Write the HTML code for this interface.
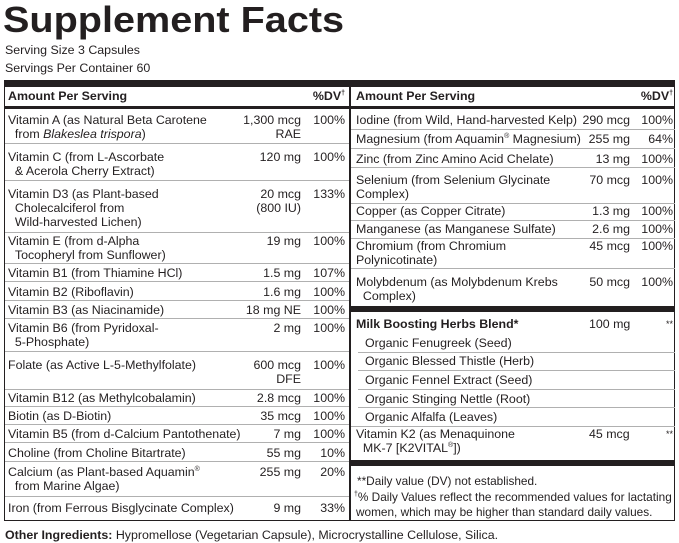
<!DOCTYPE html><html><head><meta charset="utf-8"><style>
body{margin:0;width:679px;height:543px;background:#fff;position:relative;overflow:hidden;font-family:"Liberation Sans",sans-serif;color:#231f20}
div{position:absolute;white-space:nowrap}
.t{font-size:12.4px;line-height:14px}
.r{text-align:right}
.b{font-weight:bold}
.bar{background:#231f20}
.g{background:#b0b0b0;height:1px}
sup{font-size:7px;vertical-align:0;position:relative;top:-5px;line-height:0}
</style></head><body>
<div style="left:3px;top:0;font-size:36px;font-weight:bold;line-height:40px;transform:scaleX(1.1);transform-origin:0 0">Supplement Facts</div>
<div class="t" style="left:5px;top:43px">Serving Size 3 Capsules</div>
<div class="t" style="left:5px;top:61px">Servings Per Container 60</div>
<!-- box -->
<div style="left:4px;top:80px;width:671px;height:441px;border:1px solid #231f20;box-sizing:border-box"></div>
<div class="bar" style="left:4px;top:80px;width:671px;height:7px"></div>
<div class="bar" style="left:349px;top:80px;width:2px;height:441px"></div>
<div class="bar" style="left:4px;top:106px;width:671px;height:3px"></div>
<div class="t b" style="left:8px;top:89px">Amount Per Serving</div>
<div class="t b r" style="left:300px;width:45px;top:89px">%DV<sup>†</sup></div>
<div class="t b" style="left:356px;top:89px">Amount Per Serving</div>
<div class="t b r" style="left:628px;width:45px;top:89px">%DV<sup>†</sup></div>

<!-- left rows -->
<div class="t" style="left:8px;top:113px">Vitamin A (as Natural Beta Carotene<br>&nbsp;&nbsp;from <i>Blakeslea trispora</i>)</div>
<div class="t r" style="left:200px;width:101px;top:113px">1,300 mcg<br>RAE</div><div class="t r" style="left:300px;width:45px;top:113px">100%</div>
<div class="g" style="left:5px;top:143px;width:344px"></div>
<div class="t" style="left:8px;top:150px">Vitamin C (from L-Ascorbate<br>&nbsp;&nbsp;&amp; Acerola Cherry Extract)</div>
<div class="t r" style="left:200px;width:101px;top:150px">120 mg</div><div class="t r" style="left:300px;width:45px;top:150px">100%</div>
<div class="g" style="left:5px;top:180px;width:344px"></div>
<div class="t" style="left:8px;top:187px">Vitamin D3 (as Plant-based<br>&nbsp;&nbsp;Cholecalciferol from<br>&nbsp;&nbsp;Wild-harvested Lichen)</div>
<div class="t r" style="left:200px;width:101px;top:187px">20 mcg<br>(800 IU)</div><div class="t r" style="left:300px;width:45px;top:187px">133%</div>
<div class="g" style="left:5px;top:232px;width:344px"></div>
<div class="t" style="left:8px;top:234px">Vitamin E (from d-Alpha<br>&nbsp;&nbsp;Tocopheryl from Sunflower)</div>
<div class="t r" style="left:200px;width:101px;top:234px">19 mg</div><div class="t r" style="left:300px;width:45px;top:234px">100%</div>
<div class="g" style="left:5px;top:263px;width:344px"></div>
<div class="t" style="left:8px;top:266px">Vitamin B1 (from Thiamine HCl)</div>
<div class="t r" style="left:200px;width:101px;top:266px">1.5 mg</div><div class="t r" style="left:300px;width:45px;top:266px">107%</div>
<div class="g" style="left:5px;top:281px;width:344px"></div>
<div class="t" style="left:8px;top:285px">Vitamin B2 (Riboflavin)</div>
<div class="t r" style="left:200px;width:101px;top:285px">1.6 mg</div><div class="t r" style="left:300px;width:45px;top:285px">100%</div>
<div class="g" style="left:5px;top:300px;width:344px"></div>
<div class="t" style="left:8px;top:303px">Vitamin B3 (as Niacinamide)</div>
<div class="t r" style="left:200px;width:101px;top:303px">18 mg NE</div><div class="t r" style="left:300px;width:45px;top:303px">100%</div>
<div class="g" style="left:5px;top:318px;width:344px"></div>
<div class="t" style="left:8px;top:321px">Vitamin B6 (from Pyridoxal-<br>&nbsp;&nbsp;5-Phosphate)</div>
<div class="t r" style="left:200px;width:101px;top:321px">2 mg</div><div class="t r" style="left:300px;width:45px;top:321px">100%</div>
<div class="g" style="left:5px;top:351px;width:344px"></div>
<div class="t" style="left:8px;top:358px">Folate (as Active L-5-Methylfolate)</div>
<div class="t r" style="left:200px;width:101px;top:358px">600 mcg<br>DFE</div><div class="t r" style="left:300px;width:45px;top:358px">100%</div>
<div class="g" style="left:5px;top:389px;width:344px"></div>
<div class="t" style="left:8px;top:391px">Vitamin B12 (as Methylcobalamin)</div>
<div class="t r" style="left:200px;width:101px;top:391px">2.8 mcg</div><div class="t r" style="left:300px;width:45px;top:391px">100%</div>
<div class="g" style="left:5px;top:406px;width:344px"></div>
<div class="t" style="left:8px;top:409px">Biotin (as D-Biotin)</div>
<div class="t r" style="left:200px;width:101px;top:409px">35 mcg</div><div class="t r" style="left:300px;width:45px;top:409px">100%</div>
<div class="g" style="left:5px;top:424px;width:344px"></div>
<div class="t" style="left:8px;top:427px">Vitamin B5 (from d-Calcium Pantothenate)</div>
<div class="t r" style="left:250px;width:51px;top:427px">7 mg</div><div class="t r" style="left:300px;width:45px;top:427px">100%</div>
<div class="g" style="left:5px;top:442px;width:344px"></div>
<div class="t" style="left:8px;top:446px">Choline (from Choline Bitartrate)</div>
<div class="t r" style="left:200px;width:101px;top:446px">55 mg</div><div class="t r" style="left:300px;width:45px;top:446px">10%</div>
<div class="g" style="left:5px;top:461px;width:344px"></div>
<div class="t" style="left:8px;top:465px">Calcium (as Plant-based Aquamin<sup>®</sup><br>&nbsp;&nbsp;from Marine Algae)</div>
<div class="t r" style="left:200px;width:101px;top:465px">255 mg</div><div class="t r" style="left:300px;width:45px;top:465px">20%</div>
<div class="g" style="left:5px;top:496px;width:344px"></div>
<div class="t" style="left:8px;top:501px">Iron (from Ferrous Bisglycinate Complex)</div>
<div class="t r" style="left:250px;width:51px;top:501px">9 mg</div><div class="t r" style="left:300px;width:45px;top:501px">33%</div>

<!-- right rows -->
<div class="t" style="left:356px;top:113px">Iodine (from Wild, Hand-harvested Kelp)</div>
<div class="t r" style="left:580px;width:50px;top:113px">290 mcg</div><div class="t r" style="left:628px;width:45px;top:113px">100%</div>
<div class="g" style="left:351px;top:129px;width:324px"></div>
<div class="t" style="left:356px;top:132px">Magnesium (from Aquamin<sup>®</sup> Magnesium)</div>
<div class="t r" style="left:580px;width:50px;top:132px">255 mg</div><div class="t r" style="left:628px;width:45px;top:132px">64%</div>
<div class="g" style="left:351px;top:148px;width:324px"></div>
<div class="t" style="left:356px;top:152px">Zinc (from Zinc Amino Acid Chelate)</div>
<div class="t r" style="left:580px;width:50px;top:152px">13 mg</div><div class="t r" style="left:628px;width:45px;top:152px">100%</div>
<div class="g" style="left:351px;top:167px;width:324px"></div>
<div class="t" style="left:356px;top:173px">Selenium (from Selenium Glycinate<br>Complex)</div>
<div class="t r" style="left:580px;width:50px;top:173px">70 mcg</div><div class="t r" style="left:628px;width:45px;top:173px">100%</div>
<div class="g" style="left:351px;top:203px;width:324px"></div>
<div class="t" style="left:356px;top:204px">Copper (as Copper Citrate)</div>
<div class="t r" style="left:580px;width:50px;top:204px">1.3 mg</div><div class="t r" style="left:628px;width:45px;top:204px">100%</div>
<div class="g" style="left:351px;top:220px;width:324px"></div>
<div class="t" style="left:356px;top:222px">Manganese (as Manganese Sulfate)</div>
<div class="t r" style="left:580px;width:50px;top:222px">2.6 mg</div><div class="t r" style="left:628px;width:45px;top:222px">100%</div>
<div class="g" style="left:351px;top:238px;width:324px"></div>
<div class="t" style="left:356px;top:239px">Chromium (from Chromium<br>Polynicotinate)</div>
<div class="t r" style="left:580px;width:50px;top:239px">45 mcg</div><div class="t r" style="left:628px;width:45px;top:239px">100%</div>
<div class="g" style="left:351px;top:268px;width:324px"></div>
<div class="t" style="left:356px;top:275px">Molybdenum (as Molybdenum Krebs<br>&nbsp;&nbsp;Complex)</div>
<div class="t r" style="left:580px;width:50px;top:275px">50 mcg</div><div class="t r" style="left:628px;width:45px;top:275px">100%</div>
<div class="bar" style="left:351px;top:306px;width:324px;height:6px"></div>
<div class="t b" style="left:356px;top:317px">Milk Boosting Herbs Blend*</div>
<div class="t" style="left:589px;top:317px">100 mg</div><div class="t r" style="left:628px;width:45px;top:317px;font-size:9px">**</div>
<div class="t" style="left:365px;top:336px">Organic Fenugreek (Seed)</div>
<div class="g" style="left:358px;top:352px;width:317px"></div>
<div class="t" style="left:365px;top:354px">Organic Blessed Thistle (Herb)</div>
<div class="g" style="left:358px;top:370px;width:317px"></div>
<div class="t" style="left:365px;top:373px">Organic Fennel Extract (Seed)</div>
<div class="g" style="left:358px;top:389px;width:317px"></div>
<div class="t" style="left:365px;top:392px">Organic Stinging Nettle (Root)</div>
<div class="g" style="left:358px;top:407px;width:317px"></div>
<div class="t" style="left:365px;top:410px">Organic Alfalfa (Leaves)</div>
<div class="g" style="left:351px;top:426px;width:324px"></div>
<div class="t" style="left:356px;top:427px">Vitamin K2 (as Menaquinone<br>&nbsp;&nbsp;MK-7 [K2VITAL<sup>®</sup>])</div>
<div class="t" style="left:589px;top:427px">45 mcg</div><div class="t r" style="left:628px;width:45px;top:427px;font-size:9px">**</div>
<div class="bar" style="left:351px;top:460px;width:324px;height:6px"></div>
<div class="t" style="left:357px;top:474px;font-size:11.8px">**Daily value (DV) not established.</div>
<div class="t" style="left:354px;top:490px;font-size:11.8px"><sup>†</sup>% Daily Values reflect the recommended values for lactating</div>
<div class="t" style="left:356px;top:505px;font-size:11.8px">women, which may be higher than standard daily values.</div>

<div class="t" style="left:5px;top:528px"><b>Other Ingredients:</b> Hypromellose (Vegetarian Capsule), Microcrystalline Cellulose, Silica.</div>
</body></html>
